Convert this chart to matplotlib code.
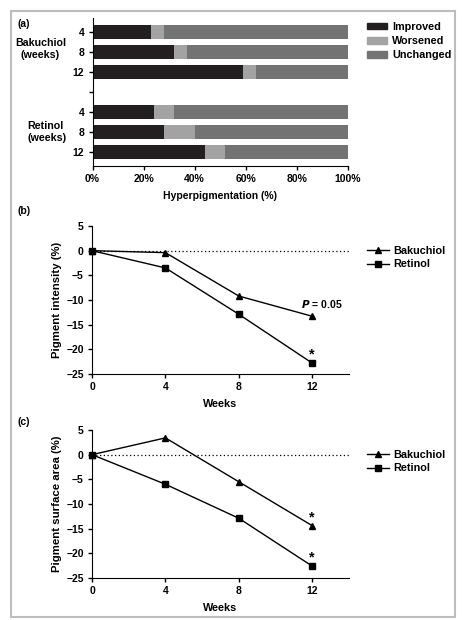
import numpy as np
import matplotlib
matplotlib.use('Agg')
import matplotlib.pyplot as plt
from matplotlib.patches import Rectangle
from matplotlib.ticker import FuncFormatter

plt.rcParams['font.family'] = ['Liberation Sans', 'DejaVu Sans']
plt.rcParams['font.weight'] = 'bold'
plt.rcParams['font.size'] = 7.5
plt.rcParams['axes.labelweight'] = 'bold'

# (a) hyperpigmentation categories, per group / week
bar_labels = ['4', '8', '12', '', '4', '8', '12']
improved = [23, 32, 59, None, 24, 28, 44]
worsened = [5, 5, 5, None, 8, 12, 8]
categories = ['Improved', 'Worsened', 'Unchanged']
cat_colors = ['#231f20', '#a3a3a3', '#737373']

# (b) pigment intensity, (c) pigment surface area
weeks = [0, 4, 8, 12]
intensity_bak = [0, -0.4, -9.2, -13.3]
intensity_ret = [0, -3.5, -12.9, -22.8]
area_bak = [0, 3.4, -5.5, -14.4]
area_ret = [0, -6.0, -12.9, -22.6]

W, H = 463, 620
fig = plt.figure(figsize=(W / 100, H / 100), dpi=100)


def box(left, top, right, bottom):
    return [left / W, 1 - bottom / H, (right - left) / W, (bottom - top) / H]


# outer frame
fig.patches.append(Rectangle((11 / W, 1 - 617 / H), 444 / W, 606 / H,
                             transform=fig.transFigure, fill=False,
                             edgecolor='#bdbdbd', linewidth=1.5))

# ---- panel (a)
ax = fig.add_axes(box(92.5, 18, 348, 166))
for i, (imp, wor) in enumerate(zip(improved, worsened)):
    if imp is None:
        continue
    vals = [imp, wor, 100 - imp - wor]
    left = 0
    for v, c in zip(vals, cat_colors):
        ax.barh(i, v, left=left, height=0.7, color=c, edgecolor='none')
        left += v
ax.set_ylim(6.7, -0.7)
ax.set_xlim(0, 100)
ax.set_yticks(range(len(bar_labels)))
ax.set_yticklabels(bar_labels)
ax.set_xticks(np.arange(0, 101, 20))
ax.xaxis.set_major_formatter(FuncFormatter(lambda x, _: f'{x:.0f}%'))
ax.set_xlabel('Hyperpigmentation (%)', labelpad=5)
for s in ['top', 'right']:
    ax.spines[s].set_visible(False)
ax.tick_params(length=3, width=1, pad=3)
fig.text(40.5 / W, 1 - 49 / H, 'Bakuchiol\n(weeks)', ha='center', va='center',
         fontsize=7.7, linespacing=1.2)
fig.text(27 / W, 1 - 132 / H, 'Retinol\n(weeks)', ha='left', va='center',
         fontsize=7.7, linespacing=1.2)
fig.text(17 / W, 1 - 24 / H, '(a)', ha='left', va='center')
handles = [Rectangle((0, 0), 1, 1, color=c) for c in cat_colors]
fig.legend(handles, categories, loc='upper left', bbox_to_anchor=(367 / W, 1 - 22 / H),
           frameon=False, borderpad=0, borderaxespad=0, handlelength=1.85,
           handleheight=0.55, labelspacing=0.38, handletextpad=0.5, fontsize=7.8)


def line_panel(top, bak, ret, ylabel, label, label_y):
    a = fig.add_axes(box(92, top, 349, top + 148))
    a.plot(weeks, bak, color='black', lw=1, marker='^', ms=4.5, label='Bakuchiol',
           clip_on=False, zorder=3)
    a.plot(weeks, ret, color='black', lw=1, marker='s', ms=4.5, label='Retinol',
           clip_on=False, zorder=3)
    a.axhline(0, color='black', lw=0.9, ls=(0, (1, 2)), zorder=1)
    a.set_xlim(0, 14)
    a.set_ylim(-25, 5)
    a.set_xticks([0, 4, 8, 12])
    a.set_yticks(np.arange(-25, 6, 5))
    a.yaxis.set_major_formatter(FuncFormatter(lambda y, _: f'{y:.0f}'.replace('-', '\u2212')))
    a.set_xlabel('Weeks', labelpad=5, fontsize=7.8)
    a.set_ylabel(ylabel, labelpad=3, fontsize=8.2)
    for s in ['top', 'right']:
        a.spines[s].set_visible(False)
    a.tick_params(length=3, width=1, pad=3)
    fig.text(17 / W, 1 - label_y / H, label, ha='left', va='center')
    a.legend(loc='upper left', bbox_to_anchor=(367 / W, 1 - (top + 20) / H),
             bbox_transform=fig.transFigure, frameon=False, borderpad=0,
             borderaxespad=0, handlelength=2.0, labelspacing=0.32,
             handletextpad=0.4, fontsize=7.8)
    return a


def star(a, x, y):
    a.annotate('*', (x, y), xytext=(0, 1), textcoords='offset points',
               ha='center', va='bottom', fontsize=10.5)


axb = line_panel(226, intensity_bak, intensity_ret, 'Pigment intensity (%)', '(b)', 211)
axb.text(12.53, -10.9, r'$\bf{\it{P}}$ = 0.05', ha='center', va='center', fontsize=7.6)
star(axb, weeks[-1], intensity_ret[-1])

axc = line_panel(430, area_bak, area_ret, 'Pigment surface area (%)', '(c)', 422)
star(axc, weeks[-1], area_bak[-1])
star(axc, weeks[-1], area_ret[-1])

fig.savefig('out.png', dpi=100)
